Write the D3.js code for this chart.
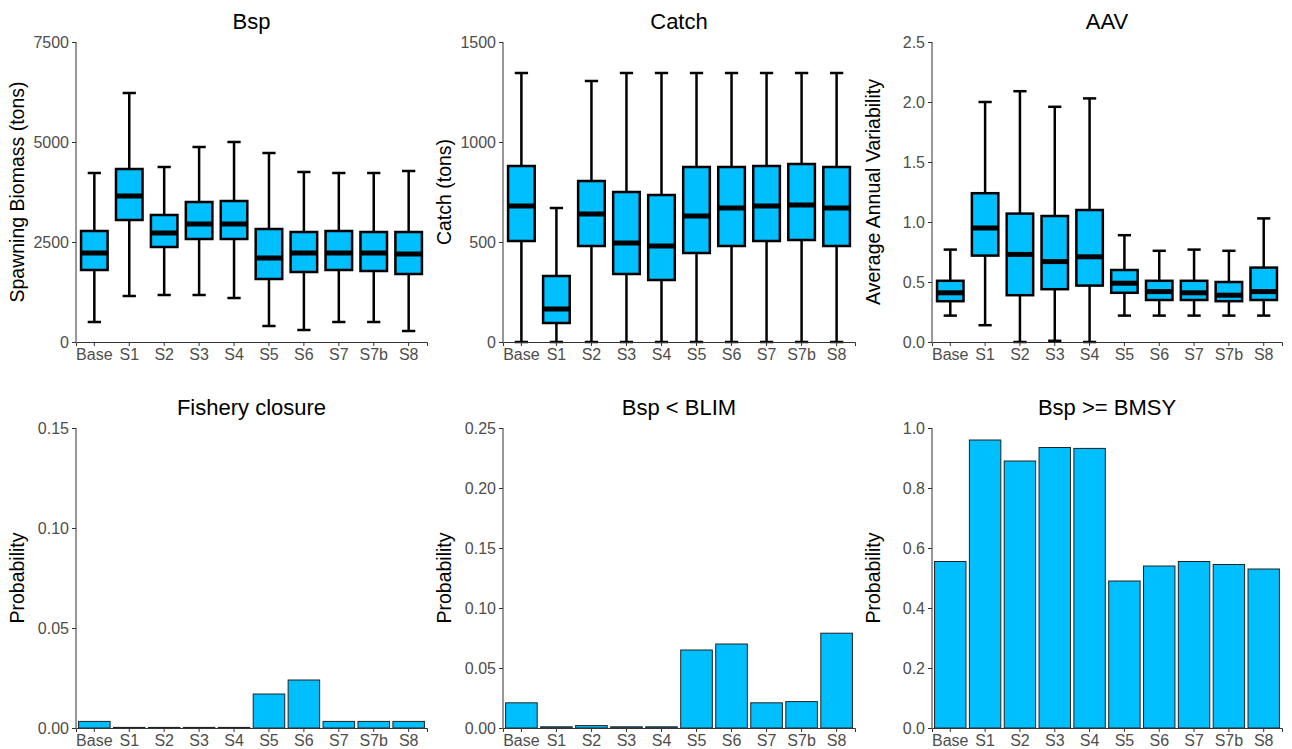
<!DOCTYPE html><html><head><meta charset="utf-8"><script src="https://cdn.jsdelivr.net/npm/d3@7"></script>
<style>body{margin:0;background:#fff}svg text{font-family:"Liberation Sans",Arial,sans-serif}svg .tick text{font-size:16px !important;fill:#4d4d4d}</style></head><body><svg id="c" width="1292" height="749"></svg>
<script>
const cats=["Base","S1","S2","S3","S4","S5","S6","S7","S7b","S8"];
// [whiskerHigh, q3, median, q1, whiskerLow]
const bsp=[[4225,2775,2225,1800,500],[6225,4325,3650,3050,1150],[4375,3175,2725,2375,1175],[4875,3500,2950,2575,1175],[5000,3525,2950,2575,1100],[4725,2825,2100,1575,400],[4250,2750,2225,1750,300],[4225,2775,2225,1800,500],[4225,2750,2225,1775,500],[4275,2750,2200,1700,275]];
const catchB=[[1345,880,680,505,0],[670,330,165,95,0],[1305,805,640,480,0],[1345,750,495,340,0],[1345,735,480,310,0],[1345,875,630,445,0],[1345,875,670,480,0],[1345,880,680,505,0],[1345,890,685,510,0],[1345,875,670,480,0]];
const aav=[[0.77,0.51,0.41,0.34,0.22],[2.0,1.24,0.95,0.72,0.14],[2.09,1.07,0.73,0.39,0],[1.96,1.05,0.67,0.44,0.01],[2.03,1.10,0.71,0.47,0],[0.89,0.60,0.49,0.41,0.22],[0.76,0.51,0.42,0.35,0.22],[0.77,0.51,0.41,0.35,0.22],[0.76,0.50,0.39,0.34,0.22],[1.03,0.62,0.42,0.35,0.22]];
const closure=[0.0033,0.0003,0.0003,0.0003,0.0003,0.017,0.024,0.0033,0.0033,0.0033];
const blim=[0.021,0.001,0.002,0.001,0.001,0.065,0.070,0.021,0.022,0.079];
const bmsy=[0.555,0.96,0.89,0.935,0.932,0.49,0.54,0.555,0.545,0.53];
const ticks1=[0,2500,5000,7500],ticks2=[0,500,1000,1500],ticks3=[0,0.5,1.0,1.5,2.0,2.5];
const ticks4=[0,0.05,0.10,0.15],ticks5=[0,0.05,0.10,0.15,0.20,0.25],ticks6=[0,0.2,0.4,0.6,0.8,1.0];
const svg=d3.select("#c");const fill="#00bfff";
const cols=[[76,427],[503,855],[932,1282]],rows=[[42,342],[428,728]];
function panel(ci,ri,title,ylab,max,ticks,fmt,draw){
 const [x0,x1]=cols[ci],[y0,y1]=rows[ri];
 const x=d3.scaleBand().domain(cats).range([x0,x1]).padding(0.05);
 const y=d3.scaleLinear().domain([0,max]).range([y1,y0]);
 const g=svg.append("g");
 draw(g,x,y);
 const ax=g.append("g").attr("transform",`translate(0,${y1})`).call(d3.axisBottom(x).tickSizeOuter(0).tickSize(4).tickPadding(3));
 const ay=g.append("g").attr("transform",`translate(${x0},0)`).call(d3.axisLeft(y).tickValues(ticks).tickFormat(fmt).tickSizeOuter(0).tickSize(4).tickPadding(3));
 [ax,ay].forEach(a=>{a.attr("font-family",null).attr("font-size",16);a.selectAll("line,path").attr("stroke","#333");});
 ay.select(".domain").attr("d",`M0,${y1}V${y0}`);
 g.append("text").attr("x",(x0+x1)/2).attr("y",y0-13).attr("text-anchor","middle").attr("font-size",22).text(title);
 g.append("text").attr("transform",`translate(${x0-52},${(y0+y1)/2}) rotate(-90)`).attr("text-anchor","middle").attr("font-size",19.5).text(ylab);
}
function boxes(data){return (g,x,y)=>{const bw=x.bandwidth()*0.8;
 data.forEach((d,i)=>{const cx=x(cats[i])+x.bandwidth()/2;
  g.append("line").attr("x1",cx).attr("x2",cx).attr("y1",y(d[0])).attr("y2",y(d[4])).attr("stroke","#000").attr("stroke-width",2.5);
  [d[0],d[4]].forEach(v=>g.append("line").attr("x1",cx-bw/4).attr("x2",cx+bw/4).attr("y1",y(v)).attr("y2",y(v)).attr("stroke","#000").attr("stroke-width",2.5));
  g.append("rect").attr("x",cx-bw/2).attr("width",bw).attr("y",y(d[1])).attr("height",y(d[3])-y(d[1])).attr("fill",fill).attr("stroke","#000").attr("stroke-width",2.5);
  g.append("line").attr("x1",cx-bw/2).attr("x2",cx+bw/2).attr("y1",y(d[2])).attr("y2",y(d[2])).attr("stroke","#000").attr("stroke-width",5);
 });};}
function bars(data){return (g,x,y)=>{data.forEach((v,i)=>{const bw=x.bandwidth()*0.95,cx=x(cats[i])+x.bandwidth()/2;
 g.append("rect").attr("x",cx-bw/2).attr("width",bw).attr("y",y(v)).attr("height",y(0)-y(v)).attr("fill",fill).attr("stroke","#222").attr("stroke-width",1);});};}
panel(0,0,"Bsp","Spawning Biomass (tons)",7500,ticks1,d3.format("d"),boxes(bsp));
panel(1,0,"Catch","Catch (tons)",1500,ticks2,d3.format("d"),boxes(catchB));
panel(2,0,"AAV","Average Annual Variability",2.5,ticks3,d3.format(".1f"),boxes(aav));
panel(0,1,"Fishery closure","Probability",0.15,ticks4,d3.format(".2f"),bars(closure));
panel(1,1,"Bsp < BLIM","Probability",0.25,ticks5,d3.format(".2f"),bars(blim));
panel(2,1,"Bsp >= BMSY","Probability",1.0,ticks6,d3.format(".1f"),bars(bmsy));
</script></body></html>
